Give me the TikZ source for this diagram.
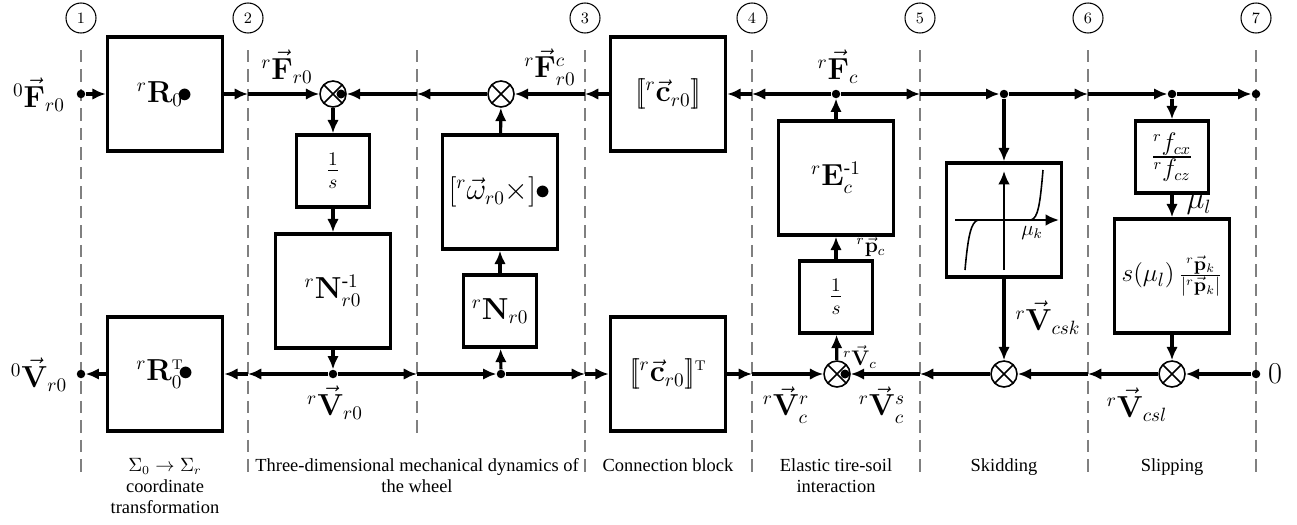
\documentclass[tikz,border=0pt]{standalone}
\usepackage{amsmath}
\usepackage[no-math]{fontspec}
\setmainfont{Liberation Serif}
\usetikzlibrary{arrows.meta,calc}
\tikzset{
  bigbox/.style={draw, line width=2pt, minimum width=2.3cm, minimum height=2.28cm, inner sep=0pt, font=\fontsize{16}{19}\selectfont},
  smallbox/.style={draw, line width=2pt, minimum width=1.46cm, minimum height=1.44cm, inner sep=0pt, font=\fontsize{16}{19}\selectfont},
  sum/.style={circle, draw, fill=white, line width=0.9pt, minimum size=0.52cm, inner sep=0pt,
    path picture={\draw[line width=0.9pt] (path picture bounding box.north west) -- (path picture bounding box.south east)
      (path picture bounding box.north east) -- (path picture bounding box.south west);}},
  sig/.style={line width=1.8pt, -{Latex[length=7.6pt,width=6.6pt]}},
  jdot/.style={circle, fill, inner sep=0pt, minimum size=0.17cm},
  numc/.style={circle, draw, line width=0.6pt, minimum size=0.6cm, inner sep=0pt, font=\fontsize{9}{10}\selectfont},
  bnd/.style={draw=gray, line width=0.7pt, dash pattern=on 0.25cm off 0.14cm},
  lbl/.style={inner sep=0pt, font=\fontsize{16}{19}\selectfont},
  slbl/.style={inner sep=0pt, font=\fontsize{12}{14}\selectfont},
  txt/.style={inner sep=0pt, anchor=north, align=center, font=\fontsize{10.5}{12}\selectfont},
}
\begin{document}
\begin{tikzpicture}[x=0.02cm, y=-0.02cm]
\useasboundingbox (0,0) rectangle (1297,524);

% boundaries
\foreach \n/\x in {1/81,2/248,3/585,4/752,5/920,6/1088,7/1256}{
  \node[numc] (n\n) at (\x,18) {$\n$};
  \draw[bnd] (\x,50) -- (\x,475);
}
\draw[bnd] (417,50) -- (417,436);

% blocks
\node[bigbox] (R0) at (165,94) {${}^{r}\mathbf{R}_{0}\!\bullet$};
\node[bigbox] (R0T) at (165,374) {${}^{r}\mathbf{R}_{0}^{\scriptscriptstyle\mathrm{T}}\!\bullet$};
\node[smallbox] (I1) at (333,171) {$\frac{1}{s}$};
\node[bigbox] (Ninv) at (333,291) {${}^{r}\mathbf{N}_{r0}^{\text{-}1}$};
\node[bigbox] (W) at (500,192) {$\left[{}^{r}\vec{\omega}_{r0}\times\right]\!\bullet$};
\node[smallbox] (N) at (500,311) {${}^{r}\mathbf{N}_{r0}$};
\node[bigbox] (C) at (668,94) {$[\![{}^{r}\vec{\mathbf{c}}_{r0}]\!]$};
\node[bigbox] (CT) at (668,374) {$[\![{}^{r}\vec{\mathbf{c}}_{r0}]\!]^{\scriptscriptstyle\mathrm{T}}$};
\node[bigbox] (E) at (836,178) {${}^{r}\mathbf{E}_{c}^{\text{-}1}$};
\node[smallbox] (I2) at (836,297) {$\frac{1}{s}$};
\node[bigbox] (SK) at (1004,220) {};
\node[smallbox, font=\fontsize{19}{22}\selectfont] (FR) at (1172,157) {$\frac{{}^{r}f_{cx}}{{}^{r}f_{cz}}$};
\node[bigbox, font=\fontsize{15}{18}\selectfont] (SL) at (1172,276) {$s(\mu_l)\,\frac{{}^{r}\vec{\mathbf{p}}_k}{|{}^{r}\vec{\mathbf{p}}_k|}$};

% skidding characteristic
\draw[line width=1.3pt, -{Latex[length=7.6pt,width=6.6pt]}] (955,220) -- (1059,220);
\draw[line width=1.3pt, -{Latex[length=7.6pt,width=6.6pt]}] (1004,270) -- (1004,171);
\draw[line width=0.9pt] (965,270) .. controls (968,236) and (971,222) .. (978,220);
\draw[line width=0.9pt] (1031,220) .. controls (1038,218) and (1040,205) .. (1043,170);
\node[slbl] (muk) at (1032,233) {$\mu_k$};

% sums
\node[sum] (S1) at (333,94) {};
\node[sum] (S2) at (501,94) {};
\node[sum] (S4) at (837,374) {};
\node[sum] (S5) at (1004,374) {};
\node[sum] (S6) at (1172,374) {};
\fill ($(S1.center)+(8,0)$) circle[radius=0.09cm];
\fill ($(S4.center)+(8,0)$) circle[radius=0.09cm];

% junction dots
\node[jdot] (d1t) at (81,94) {};
\node[jdot] (d1b) at (81,374) {};
\node[jdot] (jV) at (333,374) {};
\node[jdot] (jN) at (501,374) {};
\node[jdot] (jF) at (836,94) {};
\node[jdot] (jK) at (1004,94) {};
\node[jdot] (jL) at (1172,94) {};
\node[jdot] (d7t) at (1256,94) {};
\node[jdot] (d7b) at (1256,374) {};

% boundary crossing points
\coordinate (b2t) at (248,94);
\coordinate (bmt) at (417,94);
\coordinate (b3t) at (585,94);
\coordinate (b4t) at (752,94);
\coordinate (b5t) at (920,94);
\coordinate (b6t) at (1088,94);
\coordinate (b2b) at (248,374);
\coordinate (bmb) at (417,374);
\coordinate (b3b) at (585,374);
\coordinate (b4b) at (752,374);
\coordinate (b5b) at (920,374);
\coordinate (b6b) at (1088,374);

% top signal line
\draw[sig] (d1t) -- (R0);
\draw[sig] (R0) -- (b2t);
\draw[sig] (b2t) -- (S1);
\draw[sig] (S2) -- (bmt);
\draw[sig] (bmt) -- (S1);
\draw[sig] (C) -- (b3t);
\draw[sig] (b3t) -- (S2);
\draw[sig] (jF) -- (b4t);
\draw[sig] (b4t) -- (C);
\draw[sig] (jF) -- (b5t);
\draw[sig] (b5t) -- (jK);
\draw[sig] (jK) -- (b6t);
\draw[sig] (b6t) -- (jL);
\draw[sig] (jL) -- (d7t);

% vertical and bottom
\draw[sig] (S1) -- (I1);
\draw[sig] (I1) -- (Ninv);
\draw[sig] (Ninv) -- (jV);
\draw[sig] (jV) -- (b2b);
\draw[sig] (b2b) -- (R0T);
\draw[sig] (R0T) -- (d1b);
\draw[sig] (jV) -- (bmb);
\draw[sig] (bmb) -- (jN);
\draw[sig] (jN) -- (N);
\draw[sig] (N) -- (W);
\draw[sig] (W) -- (S2);
\draw[sig] (jN) -- (b3b);
\draw[sig] (b3b) -- (CT);
\draw[sig] (CT) -- (b4b);
\draw[sig] (b4b) -- (S4);
\draw[sig] (S4) -- (I2);
\draw[sig] (I2) -- (E);
\draw[sig] (E) -- (jF);
\draw[sig] (d7b) -- (S6);
\draw[sig] (S6) -- (b6b);
\draw[sig] (b6b) -- (S5);
\draw[sig] (S5) -- (b5b);
\draw[sig] (b5b) -- (S4);
\draw[sig] (jK) -- (SK);
\draw[sig] (SK) -- (S5);
\draw[sig] (jL) -- (FR);
\draw[sig] (FR) -- (SL);
\draw[sig] (SL) -- (S6);

% labels
\node[lbl] (l0F) at (39,95) {${}^{0}\vec{\mathbf{F}}_{r0}$};
\node[lbl] (lFr0) at (287,67) {${}^{r}\vec{\mathbf{F}}_{r0}$};
\node[lbl] (lFc0) at (550,67) {${}^{r}\vec{\mathbf{F}}_{r0}^{c}$};
\node[lbl] (lFc) at (838,67) {${}^{r}\vec{\mathbf{F}}_{c}$};
\node[lbl] (l0V) at (39,375) {${}^{0}\vec{\mathbf{V}}_{r0}$};
\node[lbl] (lVr0) at (335,403) {${}^{r}\vec{\mathbf{V}}_{r0}$};
\node[lbl] (lVrc) at (786,405) {${}^{r}\vec{\mathbf{V}}_{c}^{r}$};
\node[lbl] (lVsc) at (882,405) {${}^{r}\vec{\mathbf{V}}_{c}^{s}$};
\node[lbl] (lVcsl) at (1137,405) {${}^{r}\vec{\mathbf{V}}_{csl}$};
\node[lbl] (lVcsk) at (1048,318) {${}^{r}\vec{\mathbf{V}}_{csk}$};
\node[lbl] (lmul) at (1199,205) {$\mu_l$};
\node[lbl] (lzero) at (1275,374) {$0$};
\node[slbl] (lpc) at (871,247) {${}^{r}\vec{\mathbf{p}}_{c}$};
\node[slbl] (lVc) at (860,357) {${}^{r}\vec{\mathbf{V}}_{c}$};

% region captions
\node[txt] (t1) at (165,458) {$\Sigma_0\rightarrow\Sigma_r$\\coordinate\\transformation};
\node[txt] (t2) at (417,458) {Three-dimensional mechanical dynamics of\\the wheel};
\node[txt] (t3) at (668,458) {Connection block};
\node[txt] (t4) at (836,458) {Elastic tire-soil\\interaction};
\node[txt] (t5) at (1004,458) {Skidding};
\node[txt] (t6) at (1172,458) {Slipping};
\end{tikzpicture}
\end{document}
